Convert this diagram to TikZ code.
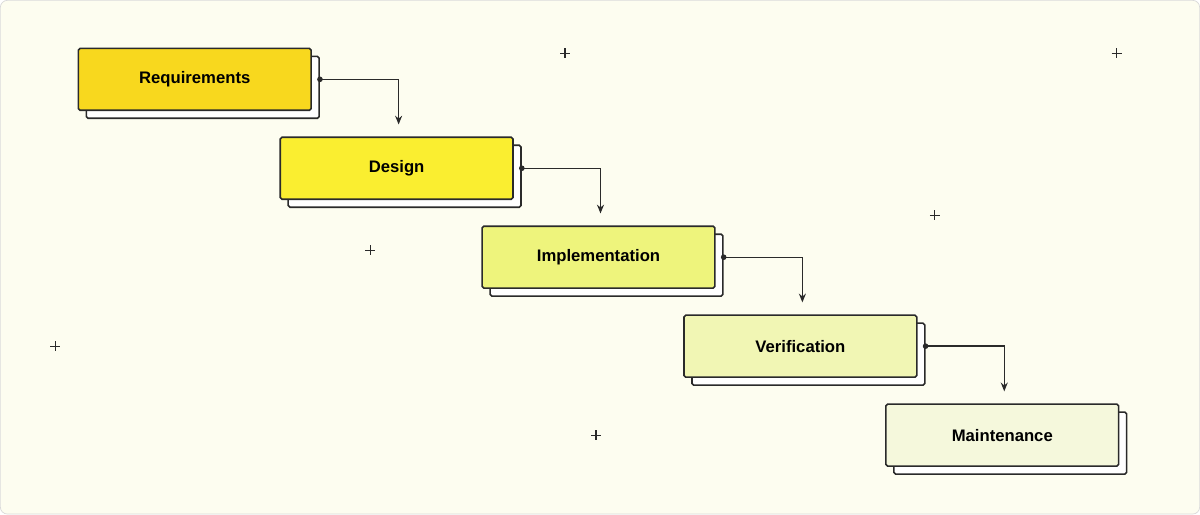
\documentclass[tikz,border=0pt]{standalone}
\usepackage{fontspec}
\setmainfont{Liberation Sans}
\usetikzlibrary{arrows.meta,positioning,calc}
\definecolor{bg}{HTML}{FDFDF0}
\definecolor{c1}{HTML}{F8D81E}
\definecolor{c2}{HTML}{FAEE30}
\definecolor{c3}{HTML}{EEF47C}
\definecolor{c4}{HTML}{F1F6B4}
\definecolor{c5}{HTML}{F5F8DC}
\definecolor{ink}{HTML}{2A2A2A}
\tikzset{
  stage/.style={draw=ink, line width=0.9pt, rounded corners=1pt,
    minimum width=4.66cm, minimum height=1.24cm, inner sep=0pt,
    font=\fontsize{9.5}{11}\selectfont\bfseries},
  backbox/.style={stage, fill=white},
  flow/.style={draw=ink, line width=0.8pt, -{Stealth[length=5pt,width=4pt]}},
  spark/.style={draw=ink, line width=0.6pt}
}
\begin{document}
\begin{tikzpicture}[x=0.02cm, y=-0.02cm]
  \draw[draw=black!15, fill=bg, rounded corners=4pt] (0,0) rectangle (1200,514);
  \foreach \n/\t/\c [count=\i from 0] in
      {req/Requirements/c1, des/Design/c2, imp/Implementation/c3,
       ver/Verification/c4, mnt/Maintenance/c5}{
    \node[backbox] (\n-b) at ({202*\i+78+116.5+8}, {89*\i+48+31+8}) {};
    \node[stage, fill=\c] (\n) at ({202*\i+78+116.5}, {89*\i+48+31}) {\t};
  }
  % connectors between stages
  \foreach \a/\b in {req/des, des/imp, imp/ver, ver/mnt}{
    \coordinate (\a-o) at (\a-b.east |- \a.east);
    \fill[ink] (\a-o) circle (1.6pt);
    \draw[flow] (\a-o) -| ($(\b.north)+(2,-12)$);
  }
  % sparkles
  \foreach \p in {(565,53),(1117,53),(935,215),(370,250),(55,346),(596,435)}{
    \draw[spark] \p ++(-5,0) -- ++(10,0);
    \draw[spark] \p ++(0,-5) -- ++(0,10);
  }
\end{tikzpicture}
\end{document}
